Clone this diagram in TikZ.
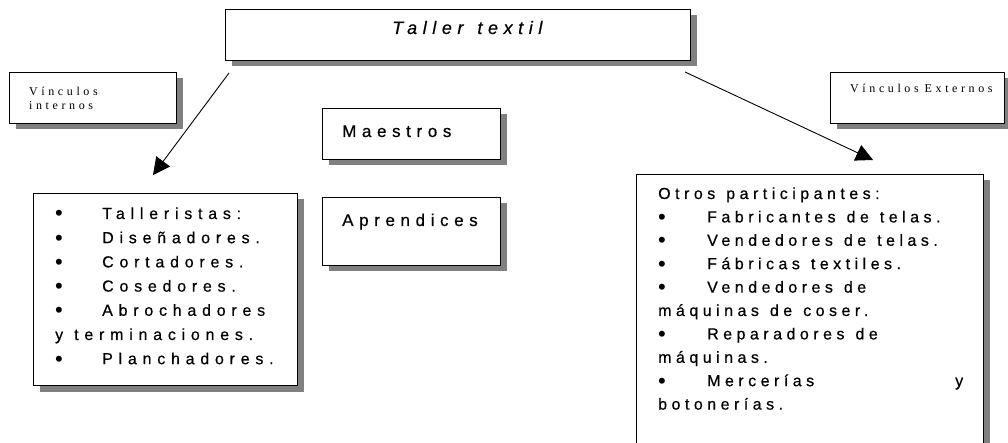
\documentclass[tikz,border=0pt]{standalone}
\usepackage{fontspec}
\usetikzlibrary{shadows,arrows.meta}
\setmainfont{Liberation Sans}
\newfontfamily\ttlfont[LetterSpace=31,FakeBold=0.5]{Liberation Sans}
\newfontfamily\lstfont[LetterSpace=36,FakeBold=0.5]{Liberation Sans}
\newfontfamily\rlstfont[LetterSpace=28,FakeBold=0.5]{Liberation Sans}
\newfontfamily\midfont[LetterSpace=33,FakeBold=0.5]{Liberation Sans}
\newfontfamily\serfont[LetterSpace=30]{Liberation Serif}
\newfontfamily\bulfont{Liberation Sans}
\newcommand{\ws}{\hspace{11pt}}
\newcommand{\tws}{\hspace{14pt}}
\newcommand{\sws}{\hspace{6pt}}
\newcommand{\bl}[1]{\makebox[#1][l]{\raisebox{-2pt}{\bulfont\fontsize{22}{22}\selectfont •}}}
\begin{document}
\begin{tikzpicture}[x=1pt,y=-1pt,
  box/.style={draw=black, line width=1pt, fill=white, anchor=north west, inner sep=0pt,
    drop shadow={shadow xshift=6pt, shadow yshift=-6pt, fill=black!50, opacity=1}},
  txt/.style={anchor=base west, inner sep=0pt},
  arr/.style={line width=0.9pt, -{Triangle[length=17pt,width=17pt]}}]
\useasboundingbox (0,0) rectangle (1008,443);
\clip (0,0) rectangle (1008,443);

% main box
\node[box, minimum width=465pt, minimum height=51pt] (main) at (225,9) {};
\node[txt, font=\ttlfont\itshape\fontsize{18}{21}\selectfont] (title) at (392,34) {Taller\tws textil};

% link boxes
\node[box, minimum width=167pt, minimum height=51pt] (vi) at (9,72) {};
\node[txt, text width=140pt, align=left, font=\serfont\fontsize{12}{14}\selectfont] (vit) at (29,96) {Vínculos\\internos};
\node[box, minimum width=174pt, minimum height=51pt] (ve) at (830,72) {};
\node[txt, font=\serfont\fontsize{12}{14}\selectfont] (vet) at (850,93) {Vínculos\sws Externos};

% middle boxes
\node[box, minimum width=178pt, minimum height=51pt] (mae) at (322,108) {};
\node[txt, font=\midfont\fontsize{17}{20}\selectfont] (maet) at (342,137) {Maestros};
\node[box, minimum width=178pt, minimum height=68pt] (apr) at (322,197) {};
\node[txt, font=\midfont\fontsize{17}{20}\selectfont] (aprt) at (342,226) {Aprendices};

% left list
\node[box, minimum width=264pt, minimum height=192pt] (int) at (33,193) {};
\node[txt, text width=240pt, align=left, font=\lstfont\fontsize{16}{24.2}\selectfont] (intt) at (55,219) {%
\bl{47pt}Talleristas:\\
\bl{47pt}Diseñadores.\\
\bl{47pt}Cortadores.\\
\bl{47pt}Cosedores.\\
\bl{47pt}Abrochadores\\
y\ws terminaciones.\\
\bl{47pt}Planchadores.};

% right list
\node[box, minimum width=347pt, minimum height=300pt] (ext) at (636,174) {};
\node[txt, text width=305pt, align=left, font=\rlstfont\fontsize{16}{23.4}\selectfont] (extt) at (658,199) {%
Otros\ws participantes:\\
\bl{49pt}Fabricantes\ws de\ws telas.\\
\bl{49pt}Vendedores\ws de\ws telas.\\
\bl{49pt}Fábricas\ws textiles.\\
\bl{49pt}Vendedores\ws de\\
máquinas\ws de\ws coser.\\
\bl{49pt}Reparadores\ws de\\
máquinas.\\
\bl{49pt}Mercerías\hfill y\\
botonerías.};

% arrows
\coordinate (a1s) at (229,73);
\coordinate (a1e) at (153,175);
\coordinate (a2s) at (685,72);
\coordinate (a2e) at (873,160);
\draw[arr] (a1s) -- (a1e);
\draw[arr] (a2s) -- (a2e);
\end{tikzpicture}
\end{document}
